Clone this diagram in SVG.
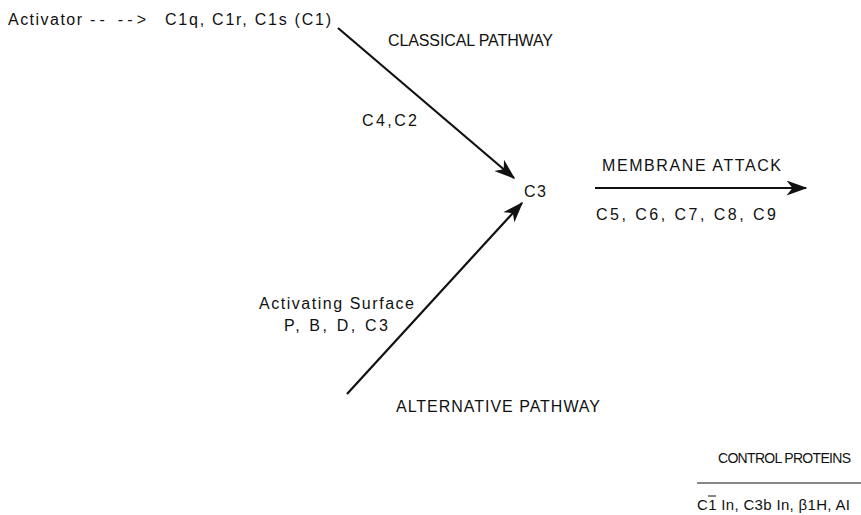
<svg xmlns="http://www.w3.org/2000/svg" width="861" height="515" viewBox="0 0 861 515">
<defs>
<style>
text{font-family:"Liberation Sans","DejaVu Sans",sans-serif;font-size:16px;fill:#111}
.sm{font-size:14px}
.md{font-size:15px}
.ln{stroke:#111;stroke-width:2.2;fill:none}
</style>
<marker id="ahb" viewBox="0 0 14 10" refX="13" refY="5" markerWidth="22" markerHeight="15" markerUnits="userSpaceOnUse" orient="auto">
<path d="M0,0 L14,5 L0,10 L4,5 Z" fill="#111"/>
</marker>
</defs>
<rect width="861" height="515" fill="#fff"/>
<g id="connectors">
<line class="ln" x1="338" y1="28" x2="514" y2="178" marker-end="url(#ahb)"/>
<line class="ln" x1="347" y1="394" x2="522" y2="203" marker-end="url(#ahb)"/>
<line class="ln" x1="595" y1="188" x2="806" y2="188" marker-end="url(#ahb)"/>
</g>
<g id="activator">
<text x="8" y="25" textLength="74">Activator</text>
<text x="90" y="25" textLength="56">-- --&gt;</text>
</g>
<g id="c1">
<text x="165" y="25" textLength="166">C1q, C1r, C1s (C1)</text>
</g>
<g id="classical-label">
<text x="388" y="46" textLength="165">CLASSICAL PATHWAY</text>
</g>
<g id="c4c2">
<text x="362" y="126" textLength="55">C4,C2</text>
</g>
<g id="c3">
<text x="524" y="197" textLength="22">C3</text>
</g>
<g id="alternative-inputs">
<text x="259" y="309" textLength="155">Activating Surface</text>
<text x="284" y="331" textLength="104">P, B, D, C3</text>
</g>
<g id="alternative-label">
<text x="396" y="412" textLength="204">ALTERNATIVE PATHWAY</text>
</g>
<g id="membrane-attack">
<text x="602" y="171" textLength="179">MEMBRANE ATTACK</text>
<text x="596" y="220" textLength="180">C5, C6, C7, C8, C9</text>
</g>
<g id="control-proteins">
<text class="sm" x="718" y="463" textLength="133">CONTROL PROTEINS</text>
<line x1="697" y1="483" x2="861" y2="483" stroke="#111" stroke-width="1.2"/>
<text class="md" x="697" y="510" textLength="153">C1 In, C3b In, β1H, AI</text>
<line x1="708" y1="496" x2="716" y2="496" stroke="#111" stroke-width="1"/>
</g>
</svg>
